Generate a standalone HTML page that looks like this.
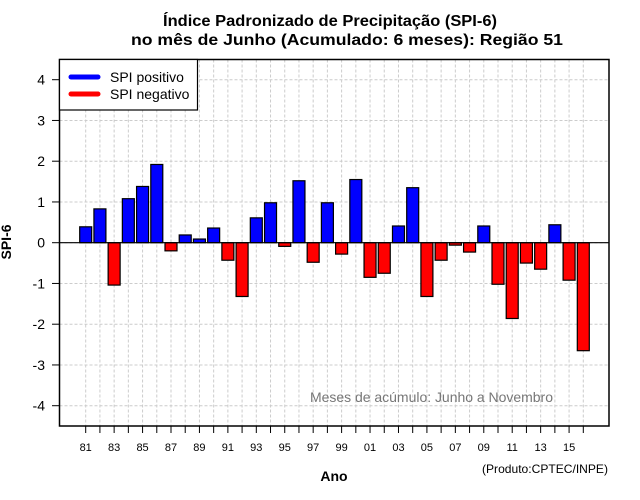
<!DOCTYPE html>
<html><head><meta charset="utf-8"><style>
html,body{margin:0;padding:0;background:#fff}
svg{display:block;font-family:"Liberation Sans",sans-serif}
</style></head><body>
<svg id="chart" width="640" height="500" viewBox="0 0 640 500">
<rect x="0" y="0" width="640" height="500" fill="#fff"/>
<g id="grid"></g>
<g id="bars"></g>
<line x1="59.5" x2="609" y1="242.7" y2="242.7" stroke="#000" stroke-width="1.2"/>
<rect x="59.5" y="59.5" width="549.5" height="366.5" fill="none" stroke="#000" stroke-width="1.5"/>
<g id="yaxis"></g>
<g id="xaxis"></g>
<text x="330" y="26" text-anchor="middle" font-size="16" font-weight="bold" textLength="334" lengthAdjust="spacingAndGlyphs">Índice Padronizado de Precipitação (SPI-6)</text>
<text x="347" y="45" text-anchor="middle" font-size="16" font-weight="bold" textLength="432" lengthAdjust="spacingAndGlyphs">no mês de Junho (Acumulado: 6 meses): Região 51</text>
<text x="334" y="481" text-anchor="middle" font-size="14" font-weight="bold">Ano</text>
<text transform="translate(11,242) rotate(-90)" text-anchor="middle" font-size="14" font-weight="bold">SPI-6</text>
<text x="310" y="402" font-size="14" fill="#777" textLength="243">Meses de acúmulo: Junho a Novembro</text>
<text x="608" y="473" text-anchor="end" font-size="12" textLength="126" lengthAdjust="spacingAndGlyphs">(Produto:CPTEC/INPE)</text>
<g>
<rect x="59.5" y="59.5" width="138" height="50.5" fill="#fff" stroke="#000" stroke-width="1.2"/>
<line x1="71" x2="98" y1="77" y2="77" stroke="#00f" stroke-width="5" stroke-linecap="round"/>
<text x="110" y="82" font-size="14">SPI positivo</text>
<line x1="71" x2="98" y1="94" y2="94" stroke="#f00" stroke-width="5" stroke-linecap="round"/>
<text x="110" y="99" font-size="14">SPI negativo</text>
</g>
</svg>
<script>
const years = [1981,1982,1983,1984,1985,1986,1987,1988,1989,1990,1991,1992,1993,1994,1995,1996,1997,1998,1999,2000,2001,2002,2003,2004,2005,2006,2007,2008,2009,2010,2011,2012,2013,2014,2015,2016];
const spiValues = [0.39,0.83,-1.04,1.08,1.38,1.92,-0.2,0.19,0.09,0.36,-0.43,-1.32,0.61,0.98,-0.09,1.52,-0.48,0.98,-0.28,1.55,-0.85,-0.75,0.41,1.35,-1.32,-0.43,-0.06,-0.23,0.41,-1.02,-1.86,-0.5,-0.65,0.44,-0.92,-2.65];
const yTicks = [-4,-3,-2,-1,0,1,2,3,4];
const NS = "http://www.w3.org/2000/svg";
const x = i => 85.7 + i * (583.3 - 85.7) / 35;
const y = v => 242.7 - v * 40.75;
function mk(tag, attrs, parent){const e=document.createElementNS(NS,tag);for(const k in attrs)e.setAttribute(k,attrs[k]);parent.appendChild(e);return e;}
const grid=document.getElementById('grid'),bars=document.getElementById('bars'),ya=document.getElementById('yaxis'),xa=document.getElementById('xaxis');
yTicks.forEach(t=>{
  const g=mk('line',{x1:59.5,x2:609,y1:y(t),y2:y(t),stroke:'#ccc','stroke-dasharray':'3,2'},grid);
  
  
  const tk=mk('line',{x1:52,x2:59.5,y1:y(t),y2:y(t),stroke:'#000'},ya);
  
  
  const lb=mk('text',{x:45,y:y(t)+5,'text-anchor':'end','font-size':14},ya);
  lb.textContent=String(t);
  
  
});
years.forEach((yr,i)=>{
  const g=mk('line',{x1:x(i),x2:x(i),y1:59.5,y2:426,stroke:'#ccc','stroke-dasharray':'3,2'},grid);
  
  
  const tk=mk('line',{x1:x(i),x2:x(i),y1:426,y2:433,stroke:'#000'},xa);
  
  
  if(i%2===0&&yr<2016){
    const lb=mk('text',{x:x(i),y:451,'text-anchor':'middle','font-size':11},xa);
    lb.textContent=String(yr%100).padStart(2,'0');
    
    
  }
  const v=spiValues[i];
  const top=Math.min(y(v),y(0)),h=Math.abs(y(v)-y(0));
  const b=mk('rect',{x:x(i)-6,y:top,width:12,height:Math.max(h,0.5),fill:v>=0?'#00f':'#f00',stroke:'#000','stroke-width':1.2},bars);
  
  
});
</script>
</body></html>
